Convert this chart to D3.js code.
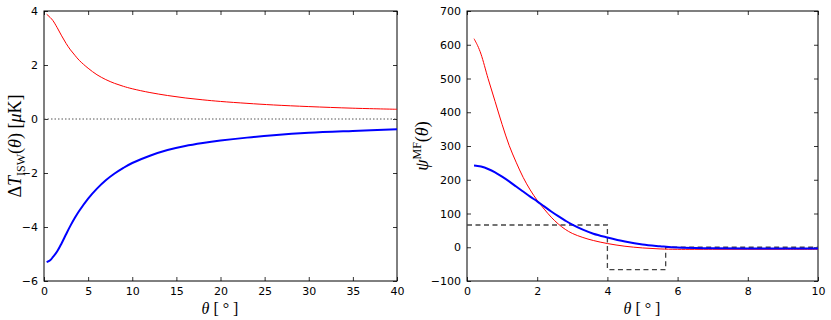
<!DOCTYPE html>
<html>
<head>
<meta charset="utf-8">
<script src="https://cdn.jsdelivr.net/npm/d3@7"></script>
<style>
body { margin: 0; background: #fff; }
svg { display: block; }
.tick text { font-family: "DejaVu Sans", sans-serif; font-size: 11px; fill: #000; }
.lbl { font-family: "Liberation Serif", serif; fill: #000; }
</style>
</head>
<body>
<svg width="831" height="320"></svg>
<script>

// DATA - left panel (temperature profile)

var leftTheta = [0.3, 0.7, 1, 1.5, 2, 2.5, 3, 3.5, 4, 5, 6, 7, 8, 9, 10, 12, 14, 16, 18, 20, 23, 26, 30, 35, 40];
var leftRed   = [3.88, 3.76, 3.65, 3.38, 3.08, 2.80, 2.56, 2.36, 2.17, 1.88, 1.64, 1.46, 1.32, 1.21, 1.12, 0.98, 0.87, 0.78, 0.71, 0.65, 0.58, 0.52, 0.46, 0.40, 0.36];
var leftBlue  = [-5.30, -5.23, -5.12, -4.90, -4.60, -4.27, -3.95, -3.66, -3.40, -2.95, -2.58, -2.27, -2.02, -1.81, -1.63, -1.36, -1.15, -1.00, -0.89, -0.80, -0.69, -0.60, -0.51, -0.44, -0.38];

// DATA - right panel (matched filter)

var rightTheta = [0.2, 0.3, 0.4, 0.6, 0.8, 1.0, 1.2, 1.4, 1.6, 1.8, 2.0, 2.2, 2.4, 2.6, 2.8, 3.0, 3.3, 3.6, 4.0, 4.5, 5.0, 5.5, 6.0, 7, 8, 9, 10];
var rightRed   = [618, 598, 572, 500, 432, 364, 302, 252, 207, 170, 139, 113, 89, 69, 53, 41, 29, 20, 11, 3, -2, -5, -6, -6, -6, -6, -6];
var rightBlue  = [242, 241, 239, 232, 222, 209, 195, 180, 165, 150, 136, 121, 106, 92, 79, 67, 52, 40, 29, 17, 8, 3, -1, -3, -4, -4, -4];

// compensated top-hat filter
var filterTheta = [0, 4, 4, 5.66, 5.66, 10];
var filterVal   = [66, 66, -66, -66, 0, 0];

var leftXTicks = [0, 5, 10, 15, 20, 25, 30, 35, 40];
var leftYTicks = [-6, -4, -2, 0, 2, 4];
var rightXTicks = [0, 2, 4, 6, 8, 10];
var rightYTicks = [-100, 0, 100, 200, 300, 400, 500, 600, 700];


var svg = d3.select("svg");
var top_ = 11, bottom = 281;

function fmt(d) { return d < 0 ? "\u2212" + Math.abs(d) : "" + d; }

function panel(x0, x1, xDom, yDom, xt, yt) {
    var g = svg.append("g");
    var x = d3.scaleLinear().domain(xDom).range([x0, x1]);
    var y = d3.scaleLinear().domain(yDom).range([bottom, top_]);

    // ticks inside, on all four sides
    g.append("g").attr("class", "axis")
        .attr("transform", "translate(0," + bottom + ")")
        .call(d3.axisBottom(x).tickValues(xt).tickFormat(fmt).tickSize(-4).tickPadding(6));
    g.append("g").attr("class", "axis")
        .attr("transform", "translate(0," + top_ + ")")
        .call(d3.axisTop(x).tickValues(xt).tickFormat("").tickSize(-4));
    g.append("g").attr("class", "axis")
        .attr("transform", "translate(" + x0 + ",0)")
        .call(d3.axisLeft(y).tickValues(yt).tickFormat(fmt).tickSize(-4).tickPadding(6));
    g.append("g").attr("class", "axis")
        .attr("transform", "translate(" + x1 + ",0)")
        .call(d3.axisRight(y).tickValues(yt).tickFormat("").tickSize(-4));

    g.selectAll(".axis path").remove();
    g.selectAll(".tick line").attr("stroke", "#000").attr("stroke-width", 0.8);

    g.append("rect")
        .attr("x", x0).attr("y", top_)
        .attr("width", x1 - x0).attr("height", bottom - top_)
        .attr("fill", "none").attr("stroke", "#000").attr("stroke-width", 1);

    return {g: g, x: x, y: y};
}

function drawLine(p, xs, ys, color, w, dash, curve) {
    var pts = xs.map(function (d, i) { return [d, ys[i]]; });
    var line = d3.line()
        .x(function (d) { return p.x(d[0]); })
        .y(function (d) { return p.y(d[1]); })
        .curve(curve || d3.curveCatmullRom.alpha(0.5));
    p.g.append("path")
        .datum(pts)
        .attr("d", line)
        .attr("fill", "none")
        .attr("stroke", color)
        .attr("stroke-width", w)
        .attr("stroke-dasharray", dash || null);
}

// left
var L = panel(44, 397, [0, 40], [-6, 4], leftXTicks, leftYTicks);
drawLine(L, [0, 40], [0, 0], "#555", 1, "1.5,2", d3.curveLinear);
drawLine(L, leftTheta, leftRed, "#ff0000", 1, null);
drawLine(L, leftTheta, leftBlue, "#0000ff", 2, null);

// right
var R = panel(467, 818, [0, 10], [-100, 700], rightXTicks, rightYTicks);
drawLine(R, filterTheta, filterVal, "#444", 1.3, "5,3.5", d3.curveLinear);
drawLine(R, rightTheta, rightRed, "#ff0000", 1, null);
drawLine(R, rightTheta, rightBlue, "#0000ff", 2, null);

// axis labels
function xlabel(cx) {
    var t = svg.append("text").attr("class", "lbl")
        .attr("x", cx).attr("y", 314)
        .attr("text-anchor", "middle").attr("font-size", 16);
    t.append("tspan").attr("font-style", "italic").text("\u03b8");
    t.append("tspan").text(" [ \u00b0 ]");
}
xlabel(220);
xlabel(642);

var yl = svg.append("text").attr("class", "lbl")
    .attr("transform", "translate(21,146) rotate(-90)")
    .attr("text-anchor", "middle").attr("font-size", 18);
yl.append("tspan").text("\u0394");
yl.append("tspan").attr("font-style", "italic").text("T");
yl.append("tspan").attr("font-size", 12).attr("dy", 4).text("ISW");
yl.append("tspan").attr("dy", -4).text("(");
yl.append("tspan").attr("font-style", "italic").text("\u03b8");
yl.append("tspan").text(") [");
yl.append("tspan").attr("font-style", "italic").text("\u03bc");
yl.append("tspan").text("K]");

var yr = svg.append("text").attr("class", "lbl")
    .attr("transform", "translate(428,146) rotate(-90)")
    .attr("text-anchor", "middle").attr("font-size", 18);
yr.append("tspan").attr("font-style", "italic").text("\u03c8");
yr.append("tspan").attr("font-size", 12).attr("dy", -7).text("MF");
yr.append("tspan").attr("dy", 7).text("(");
yr.append("tspan").attr("font-style", "italic").text("\u03b8");
yr.append("tspan").text(")");

</script>
</body>
</html>
